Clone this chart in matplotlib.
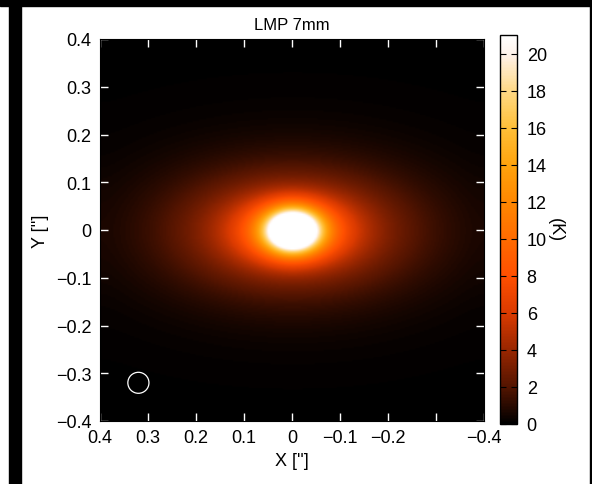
import numpy as np
import matplotlib
matplotlib.use('Agg')
import matplotlib.pyplot as plt
from matplotlib.colors import LinearSegmentedColormap
from matplotlib.patches import Rectangle, Circle

plt.rcParams['font.family'] = ['Liberation Sans', 'DejaVu Sans']

# brightness (K) along the major axis
prof_r = [0.0, 0.02, 0.04, 0.06, 0.08, 0.10, 0.12, 0.15, 0.20, 0.25, 0.30, 0.35, 0.40, 0.50, 0.70]
prof_t = [120.0, 70.0, 34.0, 18.0, 12.0, 9.0, 7.0, 5.2, 3.3, 2.2, 1.4, 0.9, 0.55, 0.2, 0.05]
axis_ratio = 0.5
beam_xy = (0.32, -0.32)
beam_r = 0.022
smooth_sigma = 0.027

xticks = [0.4, 0.3, 0.2, 0.1, 0.0, -0.1, -0.2, -0.3, -0.4]
xlabels = ['0.4', '0.3', '0.2', '0.1', '0', '\u22120.1', '\u22120.2', '', '\u22120.4']
yticks = [0.4, 0.3, 0.2, 0.1, 0.0, -0.1, -0.2, -0.3, -0.4]
ylabels = ['0.4', '0.3', '0.2', '0.1', '0', '\u22120.1', '\u22120.2', '\u22120.3', '\u22120.4']
cticks = [0, 2, 4, 6, 8, 10, 12, 14, 16, 18, 20]
vmax = 21.0

# colour table sampled from the colour bar
cpos = [0.0, 0.095, 0.19, 0.286, 0.38, 0.476, 0.571, 0.667, 0.762, 0.857, 0.952, 1.0]
ccol = [(0, 0, 0), (0.33, 0.08, 0), (0.6, 0.15, 0), (0.86, 0.23, 0), (1.0, 0.31, 0),
        (1.0, 0.42, 0), (1.0, 0.53, 0), (1.0, 0.64, 0.05), (1.0, 0.75, 0.22),
        (1.0, 0.85, 0.52), (1.0, 0.95, 0.92), (1.0, 1.0, 1.0)]
cmap = LinearSegmentedColormap.from_list('redtemp', list(zip(cpos, ccol)))

# build the map
n = 256
g = np.linspace(-0.4, 0.4, n)
X, Y = np.meshgrid(g, g)
re = np.sqrt(X**2 + (Y / axis_ratio)**2)
img = np.interp(re, prof_r, prof_t)
# smooth with the beam
k = np.exp(-(X**2 + Y**2) / (2 * smooth_sigma**2))
k /= k.sum()
img = np.real(np.fft.ifft2(np.fft.fft2(img) * np.fft.fft2(np.fft.ifftshift(k))))

fig = plt.figure(figsize=(5.92, 4.85), dpi=100)
fig.patches.append(Rectangle((0, 1 - 7 / 485), 1, 7 / 485, transform=fig.transFigure, color='black', zorder=0))
fig.patches.append(Rectangle((9 / 592, 0), 12 / 592, 1, transform=fig.transFigure, color='black', zorder=0))
fig.patches.append(Rectangle((590 / 592, 0), 2 / 592, 1, transform=fig.transFigure, color='black', zorder=0))

ax = fig.add_axes([100 / 592, 63 / 485, 384 / 592, 382 / 485])
im = ax.imshow(img, extent=[-0.4, 0.4, -0.4, 0.4], origin='lower', cmap=cmap,
               vmin=0, vmax=vmax, interpolation='bilinear', aspect='auto')
ax.set_xlim(0.4, -0.4)
ax.set_ylim(-0.4, 0.4)
ax.add_patch(Circle(beam_xy, beam_r, fill=False, edgecolor='white', lw=0.9))
ax.set_xticks(xticks)
ax.set_xticklabels(xlabels)
ax.set_yticks(yticks)
ax.set_yticklabels(ylabels)
ax.tick_params(direction='in', color='white', length=6, width=1, top=True, right=True,
               labelsize=13, pad=6)
for s in ax.spines.values():
    s.set_color('black')
ax.set_xlabel("X ['']", fontsize=13, labelpad=4)
ax.set_ylabel("Y ['']", fontsize=13, labelpad=5)
ax.set_title('LMP 7mm', fontsize=12, pad=7)

cax = fig.add_axes([500 / 592, 60 / 485, 17 / 592, 389 / 485])
cb = fig.colorbar(im, cax=cax, ticks=cticks)
cb.outline.set_linewidth(1)
cax.tick_params(direction='in', length=4, width=0.8, left=True, right=True, labelsize=13, pad=7)
cb.set_label('(K)', rotation=270, fontsize=13, labelpad=12)

fig.savefig('out.png', dpi=100)
